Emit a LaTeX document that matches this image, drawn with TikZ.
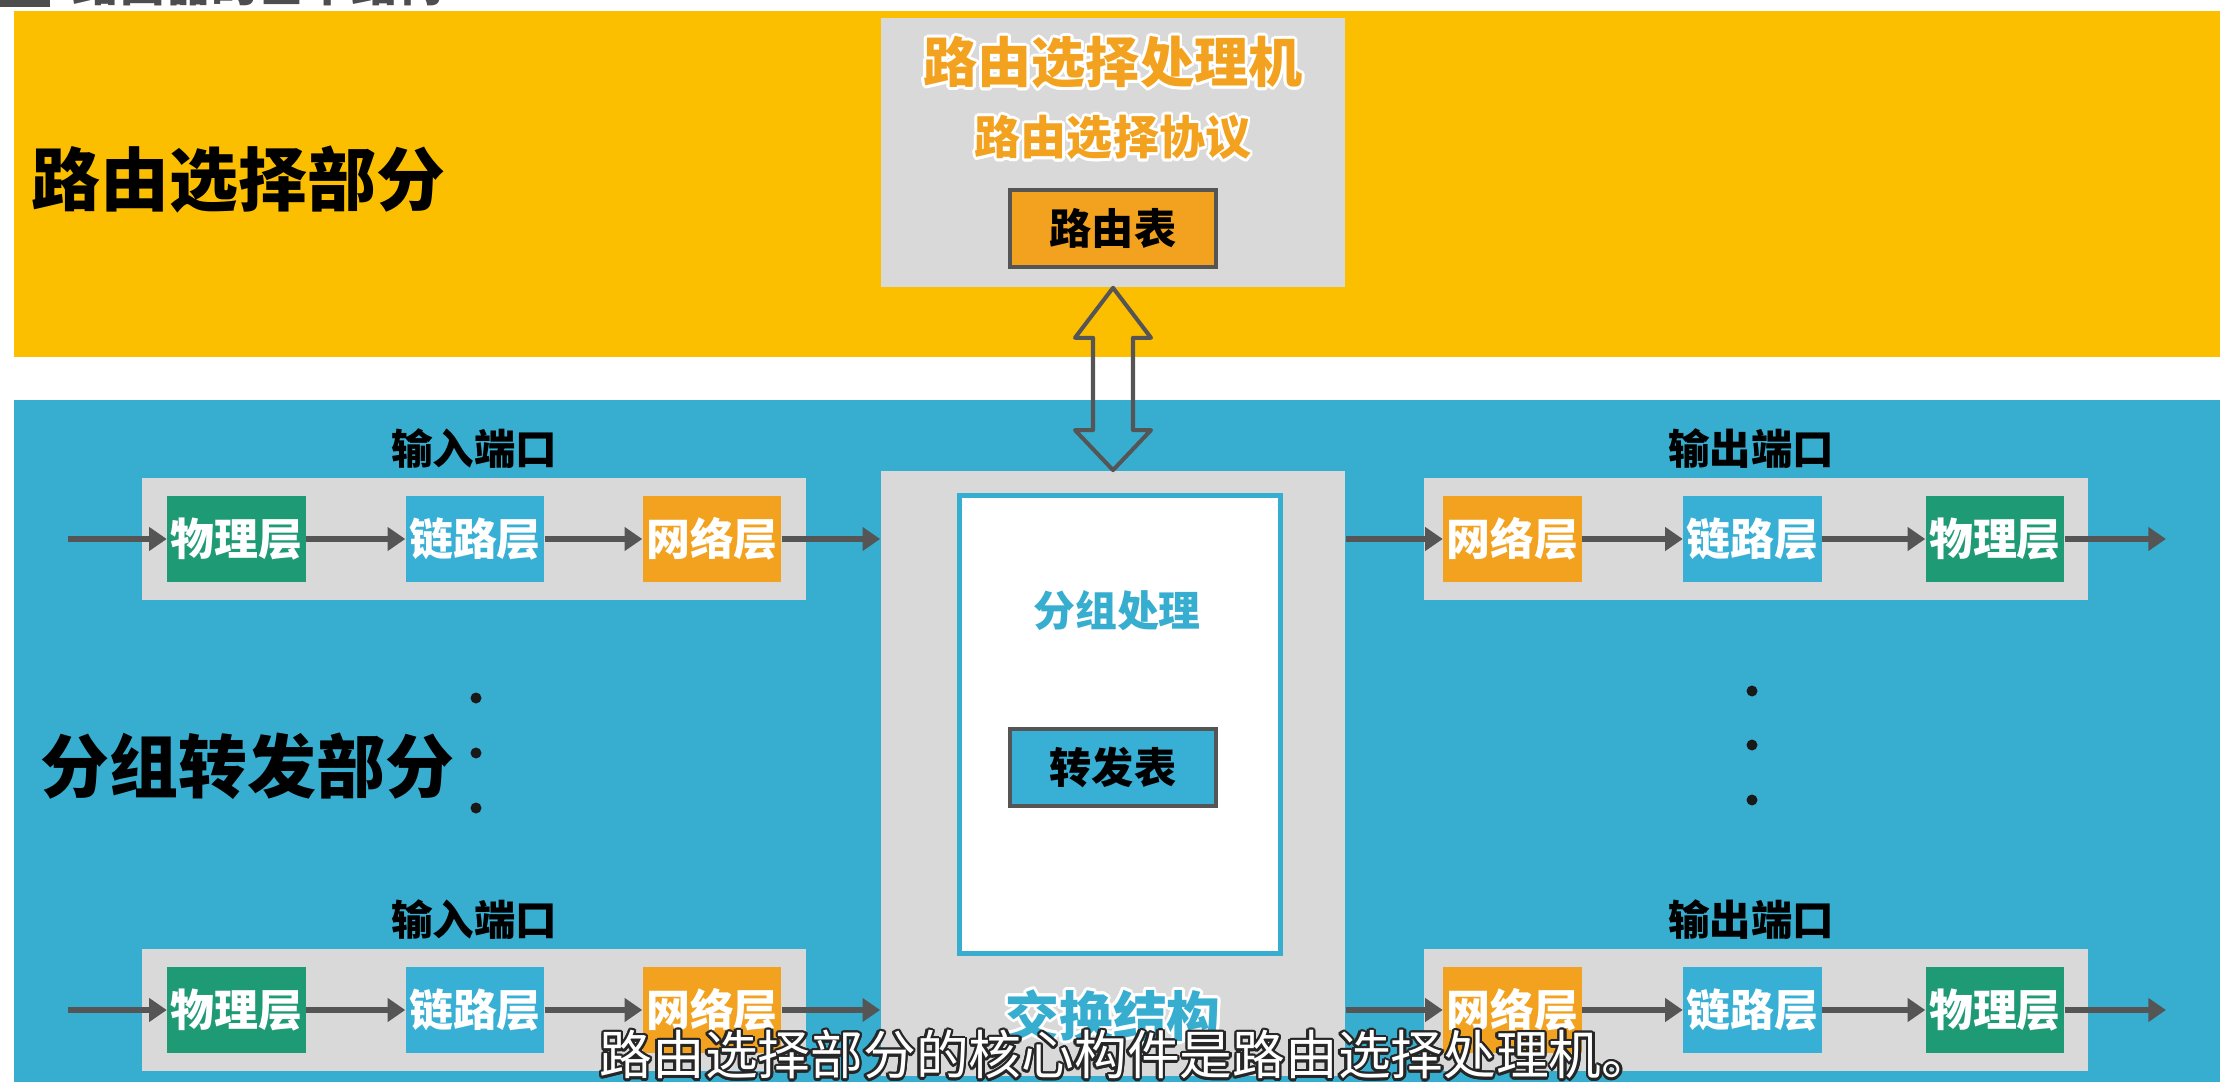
\documentclass[tikz,border=0pt]{standalone}
\usepackage{fontspec}
\setmainfont{Noto Sans CJK SC}
\usepackage{contour}
\contourlength{0.8pt}
\usetikzlibrary{positioning,arrows.meta,calc}

\definecolor{selyellow}{HTML}{FCBF00}
\definecolor{fwdblue}{HTML}{37AED0}
\definecolor{lnkblue}{HTML}{38AFD4}
\definecolor{boxgray}{HTML}{D9D9D9}
\definecolor{phygreen}{HTML}{1E9A74}
\definecolor{netorange}{HTML}{F2A21E}
\definecolor{arrowgray}{HTML}{555555}
\definecolor{headgray}{HTML}{4D4D4D}

\begin{document}
\begin{tikzpicture}[x=0.01cm, y=-0.01cm,
  graybox/.style={fill=boxgray, inner sep=0pt},
  layerbox/.style={minimum width=1.38cm, minimum height=0.86cm, inner sep=0pt, text=white, font=\fontsize{12.5}{14}\selectfont\bfseries},
  phylayer/.style={layerbox, fill=phygreen},
  lnklayer/.style={layerbox, fill=lnkblue},
  netlayer/.style={layerbox, fill=netorange},
  portlbl/.style={font=\fontsize{11.8}{13}\selectfont\bfseries, inner sep=0pt},
  tablebox/.style={draw=arrowgray, line width=1.1pt, minimum width=2.06cm, minimum height=0.77cm, inner sep=0pt, font=\fontsize{12}{14}\selectfont\bfseries},
  partlbl/.style={font=\fontsize{19.6}{22}\selectfont\bfseries, inner sep=0pt, anchor=west},
  flowarrow/.style={draw=arrowgray, line width=1.5pt, -{Triangle[length=5pt,width=6.5pt]}},
]
\useasboundingbox (0,0) rectangle (2220,1082);
\clip (0,0) rectangle (2220,1082);

% title, cut off at the top
\fill[headgray] (0,-40) rectangle (50,7);
\node[anchor=base west, inner sep=0pt, text=headgray, font=\fontsize{13.2}{15}\selectfont\bfseries] (title) at (72,2) {路由器的基本结构};

% the two parts
\fill[selyellow] (14,11) rectangle (2220,357);
\fill[fwdblue] (14,400) rectangle (2220,1082);
\node[partlbl] (sellbl) at (31,180) {路由选择部分};
\node[partlbl] (fwdlbl) at (40,766) {分组转发部分};

% routing processor
\node[graybox, minimum width=4.64cm, minimum height=2.69cm] (proc) at (1113,152.5) {};
\node[inner sep=0pt, text=netorange, font=\fontsize{15.4}{17}\selectfont\bfseries] (proclbl) at (1113,64) {\contour{white}{路由选择处理机}};
\node[inner sep=0pt, text=netorange, font=\fontsize{13.1}{15}\selectfont\bfseries] (protolbl) at (1113,139) {\contour{white}{路由选择协议}};
\node[tablebox, fill=netorange] (rtable) at (1113,228.5) {路由表};

% switch fabric
\node[graybox, minimum width=4.64cm, minimum height=6.05cm] (fabric) at (1113,773.5) {};
\node[draw=fwdblue, line width=1.4pt, fill=white, minimum width=3.21cm, minimum height=4.58cm] (pktproc) at (1120,724.5) {};
\node[inner sep=0pt, text=fwdblue, font=\fontsize{11.9}{14}\selectfont\bfseries] (pktlbl) at (1117,612) {\contour{white}{分组处理}};
\node[tablebox, fill=lnkblue] (ftable) at (1113,767.5) {转发表};
\node[inner sep=0pt, text=fwdblue, font=\fontsize{15.3}{17}\selectfont\bfseries] (fabriclbl) at (1113,1017) {\contour{white}{交换结构}};

% hollow double arrow between processor and fabric
\draw[arrowgray, line width=1.15pt, line join=round]
  (proc.south) -- ++(38,50) -- ++(-18,0) -- ($(fabric.north)+(20,-40)$) -- ++(18,0)
  -- (fabric.north) -- ++(-38,-40) -- ++(18,0) -- ($(proc.south)+(-20,50)$) -- ++(-18,0) -- cycle;

% input and output ports
\foreach \r/\yy in {1/539, 2/1010} {
  \node[graybox, minimum width=6.64cm, minimum height=1.22cm] (inbox\r) at (474,\yy) {};
  \node[portlbl] (inlbl\r) at (474,\yy-90) {输入端口};
  \node[phylayer] (in\r-phy) at (236.5,\yy) {物理层};
  \node[lnklayer] (in\r-lnk) at (475,\yy) {链路层};
  \node[netlayer] (in\r-net) at (712,\yy) {网络层};
  \coordinate (in\r-start) at (68,\yy);

  \node[graybox, minimum width=6.64cm, minimum height=1.22cm] (outbox\r) at (1756,\yy) {};
  \node[portlbl] (outlbl\r) at (1751,\yy-90) {输出端口};
  \node[netlayer] (out\r-net) at (1512.5,\yy) {网络层};
  \node[lnklayer] (out\r-lnk) at (1752.5,\yy) {链路层};
  \node[phylayer] (out\r-phy) at (1995,\yy) {物理层};
  \coordinate (out\r-end) at (2166,\yy);

  \draw[flowarrow] (in\r-start) -- (in\r-phy);
  \draw[flowarrow] (in\r-phy) -- (in\r-lnk);
  \draw[flowarrow] (in\r-lnk) -- (in\r-net);
  \draw[flowarrow] (in\r-net) -- (in\r-net -| fabric.west);
  \draw[flowarrow] (fabric.east |- out\r-net) -- (out\r-net);
  \draw[flowarrow] (out\r-net) -- (out\r-lnk);
  \draw[flowarrow] (out\r-lnk) -- (out\r-phy);
  \draw[flowarrow] (out\r-phy) -- (out\r-end);
}

% vertical dots
\foreach \yy in {698,753,808} \fill[black!90] (476,\yy) circle (5.5);
\foreach \yy in {691,745,800} \fill[black!90] (1752,\yy) circle (5.5);

% subtitle
\node[inner sep=0pt, text=white, font=\fontsize{15}{17}\selectfont] (caption) at (1127,1056)
  {\contourlength{0.7pt}\contour{black!85}{路由选择部分的核心构件是路由选择处理机。}};
\end{tikzpicture}
\end{document}
